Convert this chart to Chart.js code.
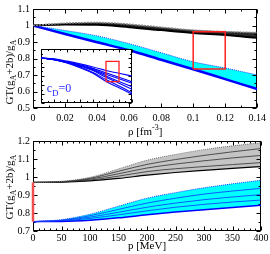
<!DOCTYPE html>
<html>
<head>
<meta charset="UTF-8">
<script src="https://cdn.jsdelivr.net/npm/chart.js@4"></script>
<style>
body { margin: 0; background: #fff; }
#wrap { position: relative; width: 270px; height: 254px; overflow: hidden; }
canvas { position: absolute; }
#top { left: 0; top: 0; }
#bot { left: 0; top: 128px; }
#ins { left: 40px; top: 48px; }
</style>
</head>
<body>
<div id="wrap">
	<canvas id="top" width="270" height="140"></canvas>
	<canvas id="bot" width="270" height="126"></canvas>
	<canvas id="ins" width="93" height="56"></canvas>
</div>
<script>
// upper panel: GT ratio vs density
const rho = [0, 0.02, 0.04, 0.06, 0.08, 0.10, 0.12, 0.14];
const gtBlackUp = [1.0, 1.014, 1.018, 1.008, 0.99, 0.972, 0.963, 0.957];
const gtBlackLo = [1.0, 1.006, 1.004, 0.99, 0.972, 0.955, 0.942, 0.925];
const gtCyanUp = [1.0, 0.97, 0.937, 0.89, 0.835, 0.78, 0.742, 0.70];
const gtCyanLo = [1.0, 0.948, 0.898, 0.85, 0.792, 0.735, 0.675, 0.615];
const boxRho = [0.1, 0.1, 0.12, 0.12, 0.1];
const boxGT = [0.737, 0.962, 0.962, 0.737, 0.737];

// inset: c_D = 0 curves
const cd0Lines = [
	[1.0, 0.99, 0.965, 0.935, 0.90, 0.862, 0.83, 0.80],
	[1.0, 0.985, 0.958, 0.925, 0.885, 0.835, 0.785, 0.736],
	[1.0, 0.985, 0.955, 0.92, 0.877, 0.82, 0.77, 0.719],
	[1.0, 0.983, 0.953, 0.915, 0.868, 0.80, 0.74, 0.681],
	[1.0, 0.982, 0.95, 0.91, 0.86, 0.785, 0.72, 0.652],
	[1.0, 0.98, 0.947, 0.90, 0.84, 0.76, 0.69, 0.614],
	[1.0, 0.98, 0.945, 0.893, 0.83, 0.74, 0.67, 0.597]
];

// lower panel: GT ratio vs momentum
const pMev = [0, 50, 100, 150, 200, 250, 300, 350, 400];
const pBlackUp = [0.97, 0.976, 0.998, 1.045, 1.093, 1.125, 1.152, 1.173, 1.19];
const pBlackMid1 = [0.97, 0.974, 0.993, 1.032, 1.07, 1.097, 1.12, 1.14, 1.158];
const pBlackMid2 = [0.97, 0.973, 0.988, 1.018, 1.05, 1.072, 1.09, 1.106, 1.12];
const pBlackMid3 = [0.97, 0.972, 0.983, 1.005, 1.03, 1.046, 1.058, 1.069, 1.08];
const pBlackLo = [0.97, 0.971, 0.978, 0.992, 1.01, 1.025, 1.037, 1.048, 1.058];
const pCyanUp = [0.752, 0.763, 0.793, 0.838, 0.882, 0.913, 0.94, 0.962, 0.982];
const pCyanMid1 = [0.752, 0.76, 0.785, 0.82, 0.855, 0.882, 0.905, 0.922, 0.937];
const pCyanMid2 = [0.752, 0.758, 0.777, 0.804, 0.832, 0.855, 0.874, 0.889, 0.902];
const pCyanMid3 = [0.752, 0.756, 0.77, 0.79, 0.812, 0.832, 0.848, 0.861, 0.872];
const pCyanLo = [0.752, 0.753, 0.76, 0.773, 0.79, 0.805, 0.818, 0.831, 0.843];
const redP = [0, 0];
const redGT = [0.752, 0.97];

const SERIF = '"Liberation Serif", "DejaVu Serif", serif';
const pts = (xs, ys) => xs.map((x, i) => ({ x, y: ys[i] }));
const fmt = v => String(+v.toFixed(2));

function line(data, color, width, extra) {
	return Object.assign({ data, borderColor: color, borderWidth: width, pointRadius: 0, fill: false,
		tension: 0.4, cubicInterpolationMode: 'monotone' }, extra || {});
}

function tickSteps(scale, major, minor) {
	const out = [];
	const n = Math.round((scale.max - scale.min) / minor);
	for (let i = 0; i <= n; i++) {
		const v = scale.min + i * minor;
		const k = v / major;
		out.push([v, Math.abs(k - Math.round(k)) < 1e-6]);
	}
	return out;
}

// box frame with inward ticks on all four sides
function frame(xt, yt, len) {
	return {
		id: 'frame',
		beforeDatasetsDraw(chart) {
			const { ctx, chartArea: a, scales: { x, y } } = chart;
			const L = Math.round(a.left) + 0.5, R = Math.round(a.right) - 0.5;
			const T = Math.round(a.top) + 0.5, B = Math.round(a.bottom) - 0.5;
			ctx.save();
			ctx.strokeStyle = '#000';
			ctx.lineWidth = 1;
			ctx.strokeRect(L, T, R - L, B - T);
			ctx.beginPath();
			tickSteps(x, xt[0], xt[1]).forEach(([v, m]) => {
				const px = Math.round(x.getPixelForValue(v)) + 0.5, l = m ? len : len / 2;
				ctx.moveTo(px, B); ctx.lineTo(px, B - l);
				ctx.moveTo(px, T); ctx.lineTo(px, T + l);
			});
			tickSteps(y, yt[0], yt[1]).forEach(([v, m]) => {
				const py = Math.round(y.getPixelForValue(v)) + 0.5, l = m ? len : len / 2;
				ctx.moveTo(L, py); ctx.lineTo(L + l, py);
				ctx.moveTo(R, py); ctx.lineTo(R - l, py);
			});
			ctx.stroke();
			ctx.restore();
		}
	};
}

// text with sub/superscripts: parts = [[text, shift]], shift 1 = sub, -1 = sup
function rich(ctx, x, y, parts, size, color) {
	const fontOf = s => (s ? Math.round(size * 0.72) : size) + 'px ' + SERIF;
	let w = 0;
	parts.forEach(([t, s]) => { ctx.font = fontOf(s); w += ctx.measureText(t).width; });
	let cx = x - w / 2;
	ctx.fillStyle = color || '#000';
	ctx.textBaseline = 'alphabetic';
	ctx.textAlign = 'left';
	parts.forEach(([t, s]) => {
		ctx.font = fontOf(s);
		ctx.fillText(t, cx, y + (s > 0 ? size * 0.3 : s < 0 ? -size * 0.4 : 0));
		cx += ctx.measureText(t).width;
	});
}

const yTitle = [['GT(g', 0], ['A', 1], ['+2b)/g', 0], ['A', 1]];

function titles(xParts, xBase, yMid) {
	return {
		id: 'titles',
		afterDraw(chart) {
			const { ctx, chartArea: a } = chart;
			ctx.save();
			rich(ctx, (a.left + a.right) / 2, xBase, xParts, 11);
			ctx.translate(12.5, yMid);
			ctx.rotate(-Math.PI / 2);
			rich(ctx, 0, 0, yTitle, 11);
			ctx.restore();
		}
	};
}

function axes(xmin, xmax, xstep, ymin, ymax, ystep, xpad) {
	const tickFont = { family: SERIF, size: 10 };
	return {
		x: { type: 'linear', min: xmin, max: xmax, grid: { display: false, drawTicks: false }, border: { display: false },
			ticks: { stepSize: xstep, font: tickFont, color: '#000', padding: xpad, autoSkip: false, maxRotation: 0, callback: fmt },
			afterFit: s => { s.height = 20; } },
		y: { min: ymin, max: ymax, grid: { display: false, drawTicks: false }, border: { display: false },
			ticks: { stepSize: ystep, font: tickFont, color: '#000', padding: 3, callback: fmt },
			afterFit: s => { s.width = 33; } }
	};
}

const common = { responsive: false, animation: false, events: [],
	plugins: { legend: { display: false }, tooltip: { enabled: false }, filler: { drawTime: 'beforeDatasetsDraw' } } };

// upper panel
new Chart(document.getElementById('top'), {
	type: 'line',
	data: { datasets: [
		line(pts(boxRho, boxGT), '#ff2020', 1.5, { tension: 0 }),
		line(pts(rho, gtBlackUp), '#8a8a8a', 1.5, { borderDash: [2, 1], fill: 2, backgroundColor: '#2a2a2a' }),
		line(pts(rho, gtBlackLo), '#000', 2),
		line(pts(rho, gtCyanUp), '#2040ff', 1, { borderDash: [1, 1], fill: 4, backgroundColor: '#00ffff' }),
		line(pts(rho, gtCyanLo), '#0000ff', 2.5)
	] },
	options: Object.assign({}, common, {
		layout: { padding: { left: 0, right: 9, top: 4, bottom: 140 - 108 - 20 } },
		scales: axes(0, 0.14, 0.02, 0.5, 1.1, 0.1, 4)
	}),
	plugins: [frame([0.02, 0.01], [0.1, 0.05], 4), titles([['ρ [fm', 0], ['-3', -1], [']', 0]], 134.5, 72)]
});

// inset
new Chart(document.getElementById('ins'), {
	type: 'line',
	data: { datasets: [line(pts(boxRho, boxGT), '#ff2020', 1.3, { tension: 0 })]
		.concat(cd0Lines.map(v => line(pts(rho, v), '#0000ff', 1.1))) },
	options: Object.assign({}, common, {
		layout: { padding: 1 },
		scales: { x: { type: 'linear', min: 0, max: 0.14, display: false }, y: { min: 0.5, max: 1.1, display: false } }
	}),
	plugins: [
		{ id: 'bg', beforeDraw(c) { const a = c.chartArea; c.ctx.fillStyle = '#fff'; c.ctx.fillRect(a.left, a.top, a.right - a.left, a.bottom - a.top); } },
		frame([0.02, 0.01], [0.1, 0.05], 3),
		{ id: 'cd', afterDraw(c) { rich(c.ctx, 19, 44, [['c', 0], ['D', 1], ['=0', 0]], 12, '#2a2aff'); } }
	]
});

// lower panel
new Chart(document.getElementById('bot'), {
	type: 'line',
	data: { datasets: [
		line(pts(redP, redGT), '#f05050', 2.5, { tension: 0, clip: 4 }),
		line(pts(pMev, pBlackUp), '#707070', 1, { borderDash: [1, 1], fill: 5, backgroundColor: '#c4c4c4' }),
		line(pts(pMev, pBlackMid1), '#303030', 0.8),
		line(pts(pMev, pBlackMid2), '#303030', 0.8),
		line(pts(pMev, pBlackMid3), '#303030', 0.8),
		line(pts(pMev, pBlackLo), '#000', 1.2),
		line(pts(pMev, pCyanUp), '#2040ff', 1, { borderDash: [1, 1], fill: 10, backgroundColor: '#00ffff' }),
		line(pts(pMev, pCyanMid1), '#1030ff', 0.8),
		line(pts(pMev, pCyanMid2), '#1030ff', 0.8),
		line(pts(pMev, pCyanMid3), '#1030ff', 0.8),
		line(pts(pMev, pCyanLo), '#0000ff', 1.5)
	] },
	options: Object.assign({}, common, {
		layout: { padding: { left: 0, right: 9, top: 13, bottom: 126 - 103 - 20 } },
		scales: axes(0, 400, 50, 0.7, 1.2, 0.1, 1)
	}),
	plugins: [frame([50, 10], [0.1, 0.05], 4), titles([['p [MeV]', 0]], 120.5, 59)]
});
</script>
</body>
</html>
